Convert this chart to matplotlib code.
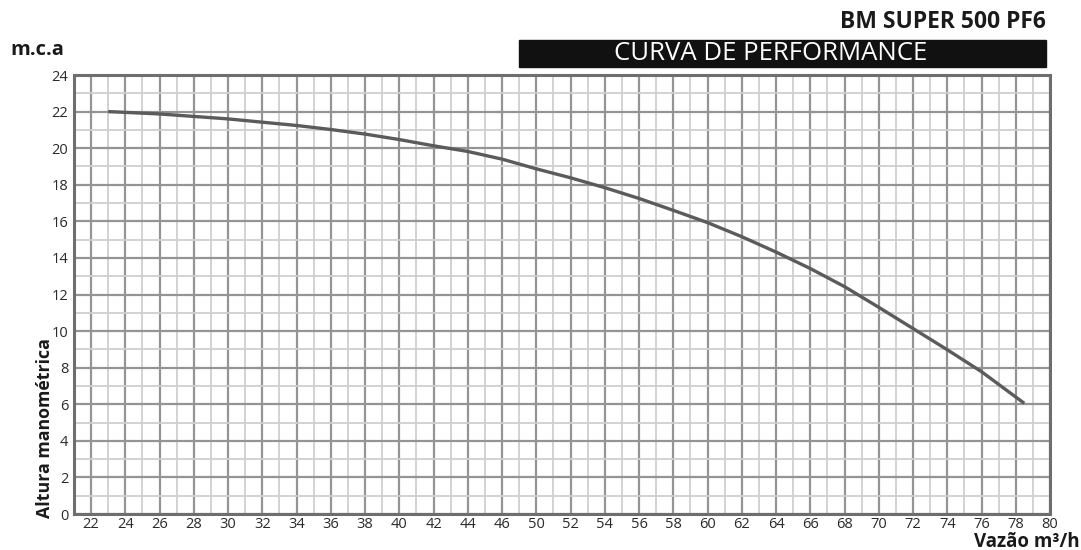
import numpy as np
import matplotlib
matplotlib.use("Agg")
import matplotlib.pyplot as plt
from matplotlib.ticker import FixedLocator, NullFormatter
from matplotlib.patches import Rectangle

# --- data ---
tick_values = [22, 24, 26, 28, 30, 32, 34, 36, 38, 40, 42, 44, 46,
               50, 52, 54, 56, 58, 60, 62, 64, 66, 68, 70, 72, 74, 76, 78, 80]
y_ticks = [0, 2, 4, 6, 8, 10, 12, 14, 16, 18, 20, 22, 24]

flow = [23.0, 26.0, 30.0, 34.0, 36.0, 38.0, 40.0, 42.0, 44.0, 46.0, 50.0, 52.0,
        54.0, 56.0, 58.0, 60.0, 62.0, 64.0, 66.0, 68.0, 70.0, 72.0, 74.0, 76.0, 78.5]
head = [22.0, 21.87, 21.6, 21.24, 21.02, 20.77, 20.47, 20.13, 19.82, 19.4, 18.87, 18.38,
        17.84, 17.25, 16.6, 15.93, 15.16, 14.32, 13.42, 12.43, 11.3, 10.14, 8.98, 7.78, 6.05]

# label axis: evenly spaced grid lines carrying the labels above
idx = np.arange(len(tick_values), dtype=float)
map_v = np.concatenate([[20.0], tick_values, [82.0]])
map_p = np.concatenate([[-1.0], idx, [len(tick_values)]])

def fwd(x):
    return np.interp(x, map_v, map_p)

def inv(p):
    return np.interp(p, map_p, map_v)

fig = plt.figure(figsize=(10.81, 5.5), dpi=100)
ax = fig.add_axes([74/1081, 1-514/550, (1050-74)/1081, (514-75)/550])
ax.set_xscale('function', functions=(fwd, inv))
ax.set_xlim(inv(-0.5), 80)
ax.set_ylim(0, 24)

ax.xaxis.set_major_locator(FixedLocator(tick_values))
ax.xaxis.set_minor_locator(FixedLocator(list(inv(np.arange(0.5, 28, 1.0)))))
ax.xaxis.set_minor_formatter(NullFormatter())
ax.set_xticklabels([str(v) for v in tick_values])
ax.yaxis.set_major_locator(FixedLocator(y_ticks))
ax.yaxis.set_minor_locator(FixedLocator(list(np.arange(1, 24, 2))))

ax.grid(which='minor', color='#cfcfcf', linewidth=1.3)
ax.grid(which='major', color='#949494', linewidth=1.6)
ax.set_axisbelow(True)

ax.plot(flow, head, color='#5c5a5c', linewidth=2.4, solid_capstyle='butt',
        solid_joinstyle='round', zorder=3)

for s in ax.spines.values():
    s.set_color('#6e6e6e')
    s.set_linewidth(2.2)

ax.tick_params(which='both', length=0)
ax.tick_params(axis='x', pad=2, labelsize=10.5, labelcolor='#2a2a2a')
ax.tick_params(axis='y', pad=4, labelsize=10.5, labelcolor='#2a2a2a')
for lab in ax.get_xticklabels() + ax.get_yticklabels():
    lab.set_fontfamily('Open Sans')

# titles
fig.text(1046/1081, 1-22/550, 'BM SUPER 500 PF6', ha='right', va='center',
         fontsize=16.5, fontweight='bold', family='Open Sans', color='#1a1a1a')
fig.patches.append(Rectangle((519/1081, 1-67/550), (1046-519)/1081, 27/550,
                             transform=fig.transFigure, color='#111111'))
fig.text(771/1081, 1-54/550, 'CURVA DE PERFORMANCE', ha='center', va='center',
         fontsize=18.5, family='Open Sans', color='white')
fig.text(10/1081, 1-50/550, 'm.c.a', ha='left', va='center',
         fontsize=14.5, fontweight='bold', family='Open Sans', color='#1a1a1a')
fig.text(45/1081, 1-428/550, 'Altura manométrica', ha='center', va='center', rotation=90,
         fontsize=12.8, fontweight='bold', family='Open Sans', color='#1a1a1a')
fig.text(1080/1081, 1-542/550, 'Vazão m³/h', ha='right', va='center',
         fontsize=13.5, fontweight='bold', family='Open Sans', color='#1a1a1a')

fig.savefig('out.png', dpi=100)
